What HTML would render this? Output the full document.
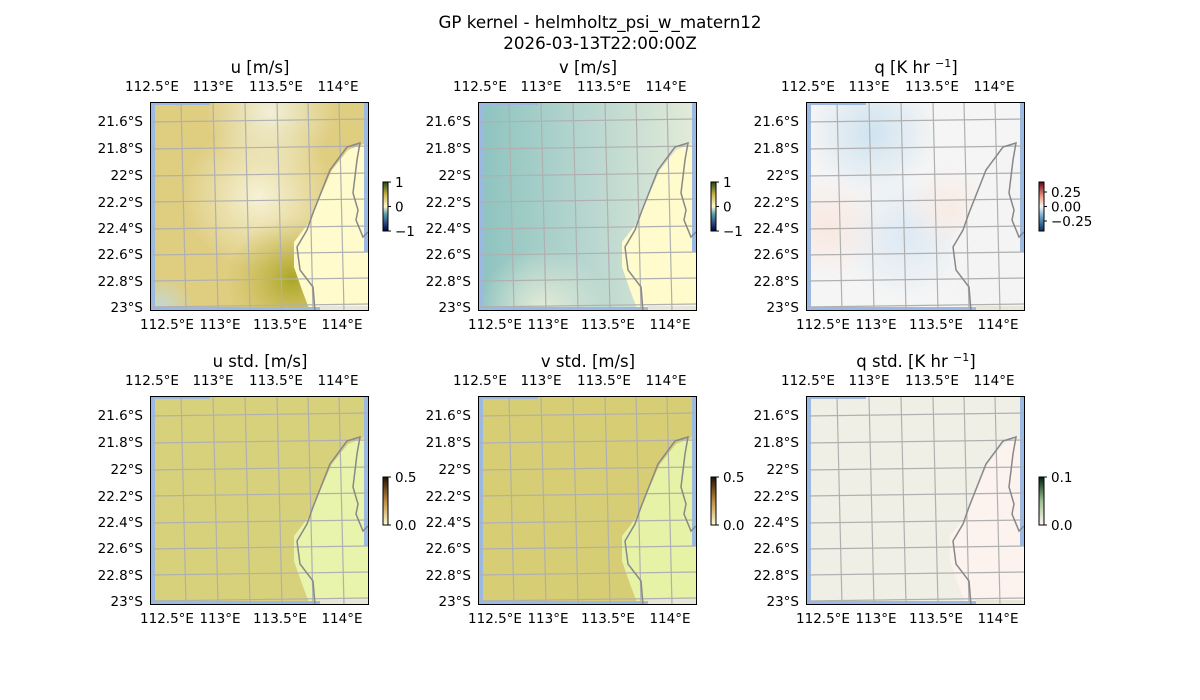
<!DOCTYPE html>
<html><head><meta charset="utf-8"><style>
html,body{margin:0;padding:0;background:#fff;width:1200px;height:700px;overflow:hidden}
svg{display:block;font-family:"DejaVu Sans","Liberation Sans",sans-serif}
</style></head><body>
<svg id="s" width="1200" height="700" viewBox="0 0 1200 700" xmlns="http://www.w3.org/2000/svg">
<defs>
<radialGradient id="uC" cx="0.5" cy="0.45" r="0.35"><stop offset="0" stop-color="#f6f2d6"/><stop offset="1" stop-color="#f6f2d6" stop-opacity="0"/></radialGradient>
<radialGradient id="uT" cx="0.55" cy="0.05" r="0.3"><stop offset="0" stop-color="#f1efd8"/><stop offset="1" stop-color="#f1efd8" stop-opacity="0"/></radialGradient>
<radialGradient id="uD" cx="0.65" cy="0.85" r="0.3"><stop offset="0" stop-color="#aaa626"/><stop offset="1" stop-color="#c8b850" stop-opacity="0"/></radialGradient>
<radialGradient id="uB" cx="0.05" cy="0.98" r="0.15"><stop offset="0" stop-color="#c6d8d0"/><stop offset="1" stop-color="#c6d8d0" stop-opacity="0"/></radialGradient>
<linearGradient id="vG" x1="0" y1="0" x2="1" y2="0"><stop offset="0" stop-color="#8dc3bf"/><stop offset="0.5" stop-color="#b7d6cf"/><stop offset="1" stop-color="#e4ebd8"/></linearGradient>
<radialGradient id="vB" cx="0.3" cy="1" r="0.3"><stop offset="0" stop-color="#e6ecd8"/><stop offset="1" stop-color="#e6ecd8" stop-opacity="0"/></radialGradient>
<radialGradient id="qB" cx="0.3" cy="0.15" r="0.3"><stop offset="0" stop-color="#cfe3f0"/><stop offset="1" stop-color="#cfe3f0" stop-opacity="0"/></radialGradient>
<radialGradient id="qB2" cx="0.45" cy="0.65" r="0.3"><stop offset="0" stop-color="#dce9f4"/><stop offset="1" stop-color="#dce9f4" stop-opacity="0"/></radialGradient>
<radialGradient id="qR" cx="0.1" cy="0.6" r="0.25"><stop offset="0" stop-color="#f9e8e0"/><stop offset="1" stop-color="#f9e8e0" stop-opacity="0"/></radialGradient>
<radialGradient id="qR2" cx="0.65" cy="0.5" r="0.2"><stop offset="0" stop-color="#f9ebe4"/><stop offset="1" stop-color="#f9ebe4" stop-opacity="0"/></radialGradient>
<linearGradient id="cbU" x1="0" y1="1" x2="0" y2="0"><stop offset="0" stop-color="#00004c"/><stop offset="0.35" stop-color="#5ca0b0"/><stop offset="0.5" stop-color="#fffccc"/><stop offset="0.75" stop-color="#c9b048"/><stop offset="1" stop-color="#1e4a10"/></linearGradient>
<linearGradient id="cbQ" x1="0" y1="1" x2="0" y2="0"><stop offset="0" stop-color="#053061"/><stop offset="0.3" stop-color="#6fa8d0"/><stop offset="0.5" stop-color="#f7f7f7"/><stop offset="0.7" stop-color="#f0a080"/><stop offset="1" stop-color="#67001f"/></linearGradient>
<linearGradient id="cbS" x1="0" y1="1" x2="0" y2="0"><stop offset="0" stop-color="#fffbd0"/><stop offset="0.5" stop-color="#c08a40"/><stop offset="1" stop-color="#201000"/></linearGradient>
<linearGradient id="cbQS" x1="0" y1="1" x2="0" y2="0"><stop offset="0" stop-color="#fff5f0"/><stop offset="0.5" stop-color="#9cc090"/><stop offset="1" stop-color="#002010"/></linearGradient>
</defs>
<text x="600" y="28" font-size="16.7" text-anchor="middle">GP kernel - helmholtz_psi_w_matern12</text>
<text x="600" y="49" font-size="16.7" text-anchor="middle">2026-03-13T22:00:00Z</text>
</svg>
<script>
const s=document.getElementById('s');
let h='';
const land="M160 209 L152 188 L144 165 L144 140 L158 122 L170 95 L182 68 L198 48 L219 40 L219 209 Z";
const coast="M165 209 L163 185 L150 168 L147 145 L157 128 L163 111 L180 68 L197 45 L210 41 L207 58 L203 91 L208 108 L206 118 L213 135 L218 130";
const sup='<tspan dy="-6" font-size="11">−1</tspan><tspan dy="6">]</tspan>';
const FS=13.5;
const panels=[
 {x:150,y:102,t:'u [m/s]',k:'u'},{x:478,y:102,t:'v [m/s]',k:'v'},{x:806,y:102,t:'q [K hr '+sup,k:'q'},
 {x:150,y:396,t:'u std. [m/s]',k:'us'},{x:478,y:396,t:'v std. [m/s]',k:'vs'},{x:806,y:396,t:'q std. [K hr '+sup,k:'qs'}];
for(const p of panels){
 let g=`<g transform="translate(${p.x},${p.y})">`;
 let bg,ld;
 const R=f=>`<rect width="219" height="209" fill="${f}"/>`;
 if(p.k=='u'){bg=R('#dfcd80')+R('url(#uC)')+R('url(#uT)')+R('url(#uD)')+R('url(#uB)');ld='#fffbcc';}
 if(p.k=='v'){bg=R('url(#vG)')+R('url(#vB)');ld='#fffbcc';}
 if(p.k=='q'){bg=R('#f5f5f5')+R('url(#qB)')+R('url(#qB2)')+R('url(#qR)')+R('url(#qR2)');ld='#f4f4f4';}
 if(p.k=='us'){bg=R('#d7d17c');ld='#e8f3ac';}
 if(p.k=='vs'){bg=R('#d6cd74');ld='#e6f2a6';}
 if(p.k=='qs'){bg=R('#f0efe6');ld='#fcf2ee';}
 g+=bg+`<path d="${land}" fill="${ld}"/>`;
 g+=`<rect x="0" y="0" width="5" height="209" fill="#9cb9e2"/><rect x="214" y="0" width="5" height="150" fill="#9cb9e2"/><rect x="0" y="205" width="170" height="4" fill="#9cb9e2"/><rect x="170" y="204" width="49" height="5" fill="#e8e6d8"/><rect x="0" y="0" width="60" height="3" fill="#9cb9e2"/>`;
 for(const gx of [31,63,95,127,158,189]) g+=`<line x1="${gx}" y1="0" x2="${gx+5}" y2="209" stroke="#b0b0b0" stroke-width="1.2"/>`;
 for(const gy of [21,48,75,101,128,154,180,206]) g+=`<line x1="0" y1="${gy-1}" x2="219" y2="${gy-4}" stroke="#b0b0b0" stroke-width="1.2"/>`;
 g+=`<path d="${coast}" fill="none" stroke="#888" stroke-width="1.5"/>`;
 g+=`<rect x="0.5" y="0.5" width="218" height="208" fill="none" stroke="#000" stroke-width="1"/>`;
 g+=`<text x="110" y="-29" font-size="16.5" text-anchor="middle">${p.t}</text>`;
 const top=[[2,'112.5°E'],[63,'113°E'],[126,'113.5°E'],[188,'114°E']];
 for(const [tx,l] of top) g+=`<text x="${tx}" y="-11" font-size="${FS}" text-anchor="middle">${l}</text>`;
 const bot=[[17,'112.5°E'],[70,'113°E'],[130,'113.5°E'],[192,'114°E']];
 for(const [tx,l] of bot) g+=`<text x="${tx}" y="227" font-size="${FS}" text-anchor="middle">${l}</text>`;
 const lat=['21.6°S','21.8°S','22°S','22.2°S','22.4°S','22.6°S','22.8°S','23°S'];
 const ly=[19,46,73,100,126,152,179,205];
 lat.forEach((l,i)=>g+=`<text x="-7" y="${ly[i]+5}" font-size="${FS}" text-anchor="end">${l}</text>`);
 let cx=233,cy=80;
 if(p.k=='u'||p.k=='v'){g+=`<rect x="${cx}" y="${cy}" width="5" height="49" fill="url(#cbU)" stroke="#000" stroke-width="1"/>`;
  [['1',cy],['0',cy+24.5],['−1',cy+49]].forEach(([l,yy])=>g+=`<line x1="${cx+5}" y1="${yy}" x2="${cx+8}" y2="${yy}" stroke="#000"/><text x="${cx+12}" y="${yy+5}" font-size="${FS}">${l}</text>`);}
 if(p.k=='q'){g+=`<rect x="${cx}" y="${cy}" width="5" height="49" fill="url(#cbQ)" stroke="#000" stroke-width="1"/>`;
  [['0.25',cy+10],['0.00',cy+24.5],['−0.25',cy+39]].forEach(([l,yy])=>g+=`<line x1="${cx+5}" y1="${yy}" x2="${cx+8}" y2="${yy}" stroke="#000"/><text x="${cx+12}" y="${yy+5}" font-size="${FS}">${l}</text>`);}
 if(p.k=='us'||p.k=='vs'||p.k=='qs'){const gr=p.k=='qs'?'cbQS':'cbS';g+=`<rect x="${cx}" y="${cy+1}" width="5" height="48" fill="url(#${gr})" stroke="#000" stroke-width="1"/>`;
  [[p.k=='qs'?'0.1':'0.5',cy+1],['0.0',cy+49]].forEach(([l,yy])=>g+=`<line x1="${cx+5}" y1="${yy}" x2="${cx+8}" y2="${yy}" stroke="#000"/><text x="${cx+12}" y="${yy+5}" font-size="${FS}">${l}</text>`);}
 g+='</g>';h+=g;
}
s.insertAdjacentHTML('beforeend',h);
</script>
</body></html>
